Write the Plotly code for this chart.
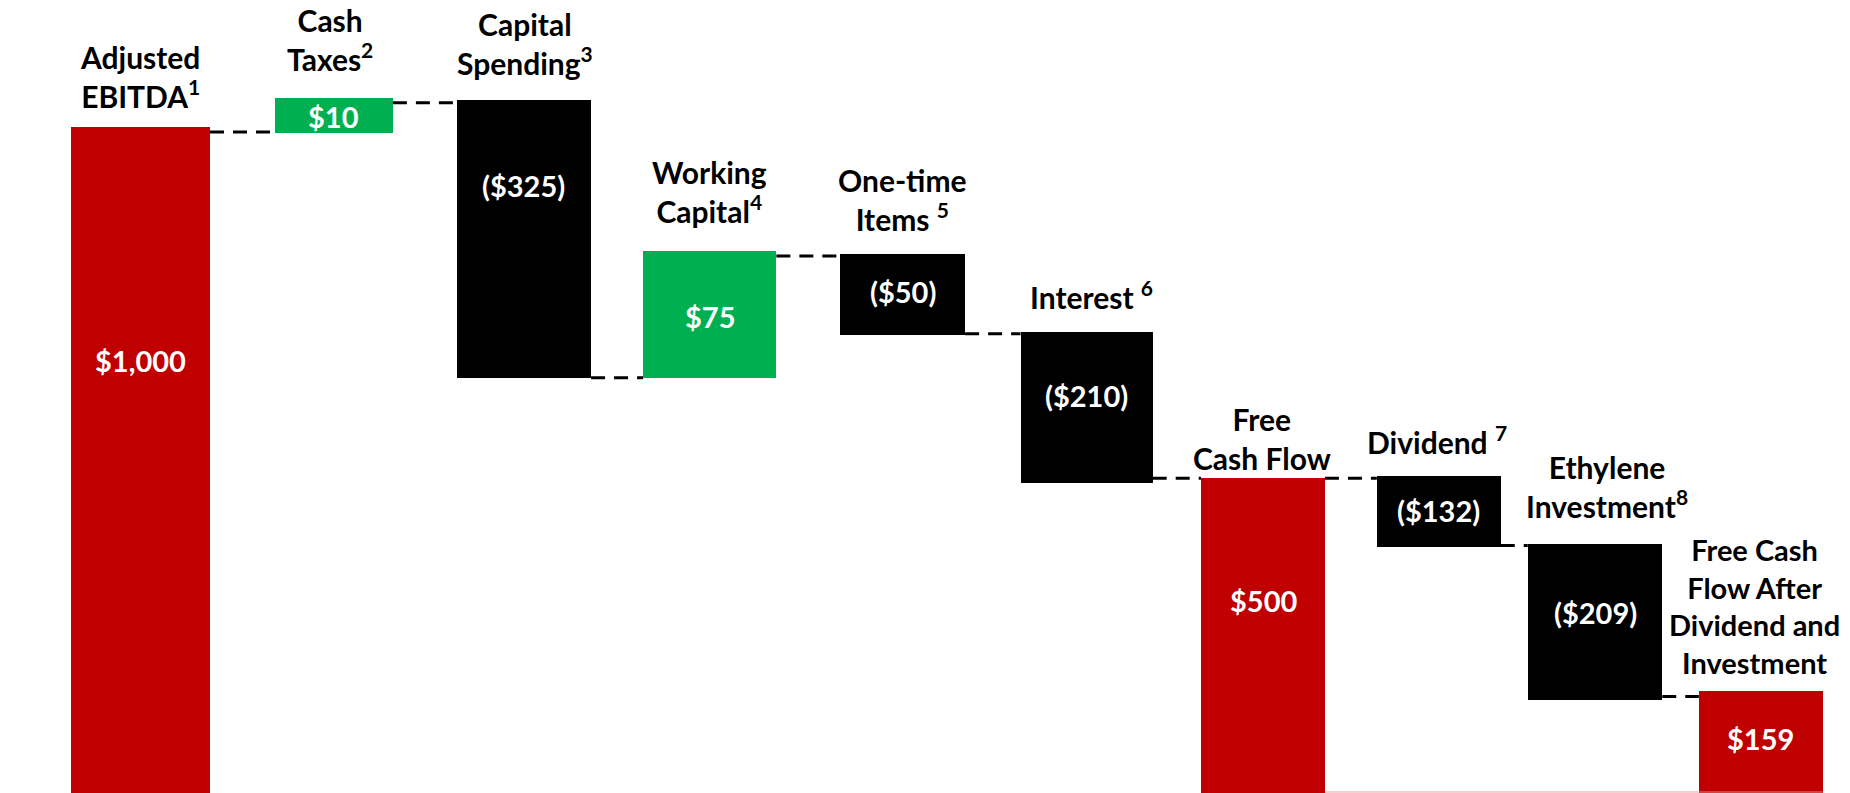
import plotly.graph_objects as go

# ---- data (bar extents as drawn in the graphic, in $ units where EBITDA = 1000) ----
categories = [
    "Adjusted<br>EBITDA<sup>1</sup>",
    "Cash<br>Taxes<sup>2</sup>",
    "Capital<br>Spending<sup>3</sup>",
    "Working<br>Capital<sup>4</sup>",
    "One-time<br>Items <sup>5</sup>",
    "Interest <sup>6</sup>",
    "Free<br>Cash Flow",
    "Dividend <sup>7</sup>",
    "Ethylene<br>Investment<sup>8</sup>",
    "Free Cash<br>Flow After<br>Dividend and<br>Investment",
]
value_labels = ["$1,000", "$10", "($325)", "$75", "($50)", "($210)", "$500", "($132)", "($209)", "$159"]
bar_top = [1000, 1044, 1041, 814, 810, 693, 473, 477, 374, 154]
bar_bottom = [0, 991, 624, 624, 688, 466, 0, 369, 140, 0]
connector_y = [993, 1037, 624, 807, 690, 473, 473, 372, 145]
kinds = ["total", "up", "down", "up", "down", "down", "total", "down", "down", "total"]

# ---- layout / style constants ----
W, H = 1850, 793
bar_x = [140.4, 333.9, 523.8, 709.7, 902.6, 1086.6, 1263.0, 1438.8, 1595.0, 1760.8]
bar_w = [139.2, 118.0, 134.5, 133.3, 125.0, 132.2, 123.9, 123.9, 134.5, 123.9]
cat_label_bottom_px = [116, 79, 83, 231, 239, 317, 478, 462, 526, 682]
cat_label_x = [140, 330, 525, 709, 902, 1091, 1262, 1437, 1607, 1754]
cat_label_size = [30, 30, 30, 30, 30, 30, 30, 30, 30, 29]
val_label_px = [361, 116, 185, 316, 291, 395, 600, 511, 612, 738]
colors = {"total": "#C00000", "up": "#00B050", "down": "#000000"}
FONT = "Lato, 'Open Sans', sans-serif"
Y_MAX = 1191.5

fig = go.Figure()

# connectors (drawn first so bars sit on top)
for i, cy in enumerate(connector_y):
    x0 = bar_x[i] + bar_w[i] / 2
    x1 = bar_x[i + 1] - bar_w[i + 1] / 2
    fig.add_trace(go.Scatter(
        x=[x0, x1], y=[cy, cy], mode="lines",
        line=dict(color="black", width=3, dash="14px,9px"),
        hoverinfo="skip", showlegend=False))

fig.add_trace(go.Bar(
    x=bar_x,
    y=[t - b for t, b in zip(bar_top, bar_bottom)],
    base=bar_bottom,
    width=bar_w,
    marker=dict(color=[colors[k] for k in kinds], line=dict(width=0)),
    hoverinfo="skip", showlegend=False))

# faint base line under the final bars
fig.add_trace(go.Scatter(
    x=[bar_x[6] + bar_w[6] / 2, bar_x[9] + bar_w[9] / 2], y=[1.5, 1.5], mode="lines",
    line=dict(color="rgba(230,150,150,0.45)", width=2),
    hoverinfo="skip", showlegend=False))

annotations = []
for i, txt in enumerate(categories):
    annotations.append(dict(
        x=cat_label_x[i], xref="x", y=1 - cat_label_bottom_px[i] / H, yref="paper",
        text=f"<b>{txt}</b>", showarrow=False, xanchor="center", yanchor="bottom",
        font=dict(family=FONT, size=cat_label_size[i], color="black"), align="center"))
for i, txt in enumerate(value_labels):
    annotations.append(dict(
        x=bar_x[i], xref="x", y=1 - val_label_px[i] / H, yref="paper",
        text=f"<b>{txt}</b>", showarrow=False, xanchor="center", yanchor="middle",
        font=dict(family=FONT, size=29, color="white")))

fig.update_layout(
    width=W, height=H,
    margin=dict(l=0, r=0, t=0, b=0),
    paper_bgcolor="white", plot_bgcolor="white",
    bargap=0,
    xaxis=dict(range=[0, W], visible=False, fixedrange=True),
    yaxis=dict(range=[0, Y_MAX], visible=False, fixedrange=True),
    annotations=annotations,
)

fig.write_html("out.html", config={"displayModeBar": False},
               post_script="document.body.style.margin='0';document.body.style.overflow='hidden';")
